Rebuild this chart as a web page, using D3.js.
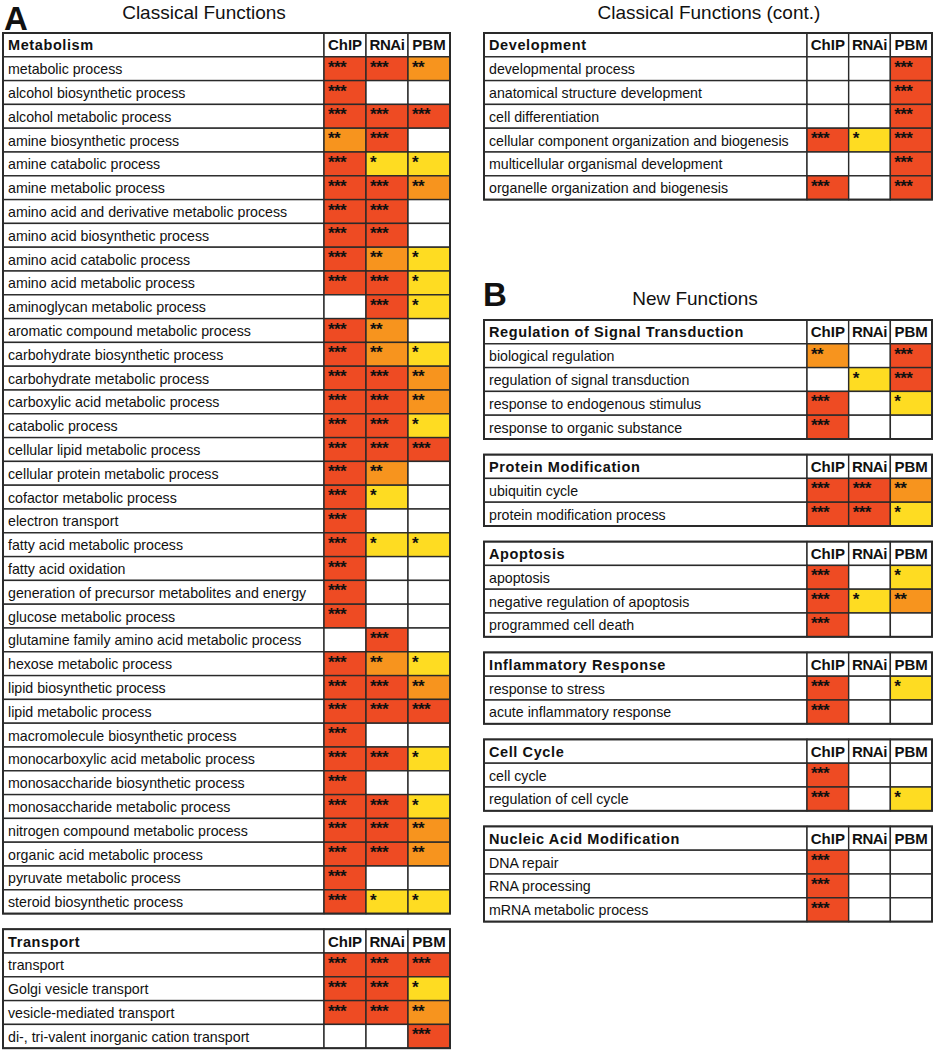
<!DOCTYPE html>
<html>
<head>
<meta charset="utf-8">
<script src="https://cdn.jsdelivr.net/npm/d3@7/dist/d3.min.js"></script>
<style>
  html, body { margin: 0; padding: 0; background: #fff; }
  svg { display: block; }
  text { font-family: "Liberation Sans", Arial, sans-serif; fill: #111; }
</style>
</head>
<body>
<svg id="chart" width="935" height="1050"></svg>
<script>
// ---------- DATA (significance level: 0 = none, 1 = *, 2 = **, 3 = ***) ----------
const methods = ["ChIP", "RNAi", "PBM"];
const levels = [1, 2, 3];

const metabolismTerms = [
  "metabolic process", "alcohol biosynthetic process", "alcohol metabolic process",
  "amine biosynthetic process", "amine catabolic process", "amine metabolic process",
  "amino acid and derivative metabolic process", "amino acid biosynthetic process",
  "amino acid catabolic process", "amino acid metabolic process", "aminoglycan metabolic process",
  "aromatic compound metabolic process", "carbohydrate biosynthetic process",
  "carbohydrate metabolic process", "carboxylic acid metabolic process", "catabolic process",
  "cellular lipid metabolic process", "cellular protein metabolic process",
  "cofactor metabolic process", "electron transport", "fatty acid metabolic process",
  "fatty acid oxidation", "generation of precursor metabolites and energy",
  "glucose metabolic process", "glutamine family amino acid metabolic process",
  "hexose metabolic process", "lipid biosynthetic process", "lipid metabolic process",
  "macromolecule biosynthetic process", "monocarboxylic acid metabolic process",
  "monosaccharide biosynthetic process", "monosaccharide metabolic process",
  "nitrogen compound metabolic process", "organic acid metabolic process",
  "pyruvate metabolic process", "steroid biosynthetic process"
];
const metabolismChIP = [3,3,3,2,3,3,3,3,3,3,0,3,3,3,3,3,3,3,3,3,3,3,3,3,0,3,3,3,3,3,3,3,3,3,3,3];
const metabolismRNAi = [3,0,3,3,1,3,3,3,2,3,3,2,2,3,3,3,3,2,1,0,1,0,0,0,3,2,3,3,0,3,0,3,3,3,0,1];
const metabolismPBM  = [2,0,3,0,1,2,0,0,1,1,1,0,1,2,2,1,3,0,0,0,1,0,0,0,0,1,2,3,0,1,0,1,2,2,0,1];

const transportTerms = ["transport", "Golgi vesicle transport", "vesicle-mediated transport",
  "di-, tri-valent inorganic cation transport"];
const transportChIP = [3,3,3,0];
const transportRNAi = [3,3,3,0];
const transportPBM  = [3,1,2,3];

const developmentTerms = ["developmental process", "anatomical structure development",
  "cell differentiation", "cellular component organization and biogenesis",
  "multicellular organismal development", "organelle organization and biogenesis"];
const developmentChIP = [0,0,0,3,0,3];
const developmentRNAi = [0,0,0,1,0,0];
const developmentPBM  = [3,3,3,3,3,3];

const signalTerms = ["biological regulation", "regulation of signal transduction",
  "response to endogenous stimulus", "response to organic substance"];
const signalChIP = [2,0,3,3];
const signalRNAi = [0,1,0,0];
const signalPBM  = [3,3,1,0];

const proteinTerms = ["ubiquitin cycle", "protein modification process"];
const proteinChIP = [3,3];
const proteinRNAi = [3,3];
const proteinPBM  = [2,1];

const apoptosisTerms = ["apoptosis", "negative regulation of apoptosis", "programmed cell death"];
const apoptosisChIP = [3,3,3];
const apoptosisRNAi = [0,1,0];
const apoptosisPBM  = [1,2,0];

const inflammTerms = ["response to stress", "acute inflammatory response"];
const inflammChIP = [3,3];
const inflammRNAi = [0,0];
const inflammPBM  = [1,0];

const cellCycleTerms = ["cell cycle", "regulation of cell cycle"];
const cellCycleChIP = [3,3];
const cellCycleRNAi = [0,0];
const cellCyclePBM  = [0,1];

const nucleicTerms = ["DNA repair", "RNA processing", "mRNA metabolic process"];
const nucleicChIP = [3,3,3];
const nucleicRNAi = [0,0,0];
const nucleicPBM  = [0,0,0];

// ---------- BUILD ----------
const svg = d3.select("#chart");
const color = d3.scaleOrdinal().domain(levels).range(["#fedc22", "#f7941e", "#ee4b23"]);
const ROW_H = 23.8;
const GAP = 15.6;

function build(title, terms, chip, rnai, pbm) {
  return {
    title, terms,
    rows: terms.map((t, i) => ({ term: t, vals: [chip[i], rnai[i], pbm[i]] }))
  };
}

const leftCol = [
  build("Metabolism", metabolismTerms, metabolismChIP, metabolismRNAi, metabolismPBM),
  build("Transport", transportTerms, transportChIP, transportRNAi, transportPBM)
];
const rightTop = [
  build("Development", developmentTerms, developmentChIP, developmentRNAi, developmentPBM)
];
const rightB = [
  build("Regulation of Signal Transduction", signalTerms, signalChIP, signalRNAi, signalPBM),
  build("Protein Modification", proteinTerms, proteinChIP, proteinRNAi, proteinPBM),
  build("Apoptosis", apoptosisTerms, apoptosisChIP, apoptosisRNAi, apoptosisPBM),
  build("Inflammatory Response", inflammTerms, inflammChIP, inflammRNAi, inflammPBM),
  build("Cell Cycle", cellCycleTerms, cellCycleChIP, cellCycleRNAi, cellCyclePBM),
  build("Nucleic Acid Modification", nucleicTerms, nucleicChIP, nucleicRNAi, nucleicPBM)
];

function drawTable(tbl, x0, labelRight, x1, top) {
  const keys = ["__header"].concat(tbl.terms);
  const y = d3.scaleBand().domain(keys).range([top, top + keys.length * ROW_H]);
  const x = d3.scaleBand().domain(methods).range([labelRight, x1]);
  const g = svg.append("g");
  const bottom = top + keys.length * ROW_H;

  // header row
  g.append("rect").attr("x", x0).attr("y", y("__header")).attr("width", labelRight - x0)
    .attr("height", y.bandwidth()).attr("fill", "#fff").attr("stroke", "#2a2a2a").attr("stroke-width", 1.4);
  g.append("text").attr("x", x0 + 5).attr("y", y("__header") + y.bandwidth() / 2 + 5.5)
    .attr("font-size", 14.5).attr("font-weight", "bold").attr("letter-spacing", 0.6).text(tbl.title);
  methods.forEach(m => {
    g.append("rect").attr("x", x(m)).attr("y", y("__header")).attr("width", x.bandwidth())
      .attr("height", y.bandwidth()).attr("fill", "#fff").attr("stroke", "#2a2a2a").attr("stroke-width", 1.4);
    g.append("text").attr("x", x(m) + x.bandwidth() / 2).attr("y", y("__header") + y.bandwidth() / 2 + 5.5)
      .attr("text-anchor", "middle").attr("font-size", 15).attr("font-weight", "bold")
      .attr("letter-spacing", m === "RNAi" ? -0.4 : 0).text(m);
  });

  // body rows
  const rg = g.selectAll("g.row").data(tbl.rows).join("g").attr("class", "row");
  rg.append("rect").attr("x", x0).attr("y", d => y(d.term)).attr("width", labelRight - x0)
    .attr("height", y.bandwidth()).attr("fill", "#fff").attr("stroke", "#2a2a2a").attr("stroke-width", 1.4);
  rg.append("text").attr("x", x0 + 5).attr("y", d => y(d.term) + y.bandwidth() / 2 + 5.5)
    .attr("font-size", 14.2).text(d => d.term);
  const cells = rg.selectAll("g.cell").data(d => d.vals.map((v, j) => ({ term: d.term, m: methods[j], v })))
    .join("g").attr("class", "cell");
  cells.append("rect").attr("x", d => x(d.m)).attr("y", d => y(d.term)).attr("width", x.bandwidth())
    .attr("height", y.bandwidth()).attr("fill", d => d.v ? color(d.v) : "#fff")
    .attr("stroke", "#2a2a2a").attr("stroke-width", 1.4);
  cells.filter(d => d.v > 0).append("text")
    .attr("x", d => x(d.m) + 4).attr("y", d => y(d.term) + 16)
    .attr("font-size", 17).attr("font-weight", "bold").attr("letter-spacing", -0.6)
    .text(d => "*".repeat(d.v));

  // outer border
  g.append("rect").attr("x", x0).attr("y", top).attr("width", x1 - x0).attr("height", bottom - top)
    .attr("fill", "none").attr("stroke", "#2a2a2a").attr("stroke-width", 2);
  return bottom;
}

// Panel A
svg.append("text").attr("x", 4).attr("y", 30).attr("font-size", 33).attr("font-weight", "bold").text("A");
svg.append("text").attr("x", 204).attr("y", 19).attr("text-anchor", "middle").attr("font-size", 19).text("Classical Functions");
svg.append("text").attr("x", 709).attr("y", 19).attr("text-anchor", "middle").attr("font-size", 19).text("Classical Functions (cont.)");

let yTop = 33;
leftCol.forEach(t => { yTop = drawTable(t, 3, 324, 450, yTop) + GAP; });
drawTable(rightTop[0], 484, 807, 932, 33);

// Panel B
svg.append("text").attr("x", 483).attr("y", 306).attr("font-size", 33).attr("font-weight", "bold").text("B");
svg.append("text").attr("x", 695).attr("y", 305).attr("text-anchor", "middle").attr("font-size", 19).text("New Functions");
let yB = 320;
rightB.forEach(t => { yB = drawTable(t, 484, 807, 932, yB) + GAP; });
</script>
</body>
</html>
